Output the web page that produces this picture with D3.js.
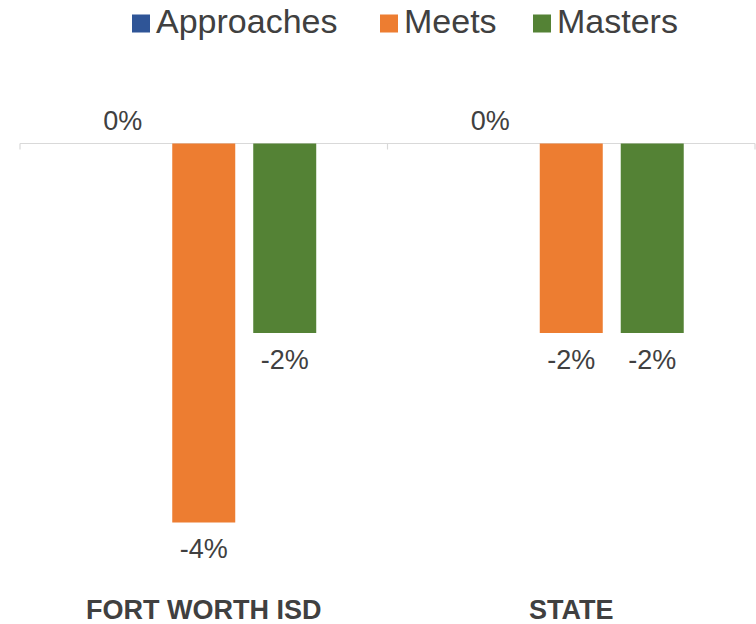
<!DOCTYPE html>
<html>
<head>
<meta charset="utf-8">
<script src="https://cdn.jsdelivr.net/npm/d3@7"></script>
<style>
  body { margin: 0; background: #fff; }
  text { font-family: "Liberation Sans", Arial, sans-serif; fill: #404040; }
</style>
</head>
<body>
<div id="chart"></div>
<script>
// data
const categories = ["FORT WORTH ISD", "STATE"];
const series = ["Approaches", "Meets", "Masters"];
const colors = ["#2F5597", "#ED7D31", "#548235"];
const approaches = [0, 0];
const meets = [-4, -2];
const masters = [-2, -2];
const valueLabels = [["0%", "-4%", "-2%"], ["0%", "-2%", "-2%"]];

const width = 756, height = 624;
const values = [approaches, meets, masters];

const svg = d3.select("#chart").append("svg")
    .attr("width", width)
    .attr("height", height);

const x0 = d3.scaleBand().domain(categories).range([20, 755]);
const x1 = d3.scaleBand().domain(series)
    .range([0, x0.bandwidth()])
    .paddingInner(18 / 81)
    .paddingOuter(0.88);
const y = d3.scaleLinear().domain([-4, 0]).range([522.5, 143.5]);

// axis line with ticks
const axis = svg.append("g").attr("transform", "translate(0," + y(0) + ")");
axis.append("line")
    .attr("x1", x0.range()[0]).attr("x2", x0.range()[1])
    .attr("stroke", "#D9D9D9").attr("stroke-width", 1.2);
axis.selectAll(".tick")
    .data(categories.map(c => x0(c)).concat([x0.range()[1]]))
    .join("line")
    .attr("x1", d => d).attr("x2", d => d)
    .attr("y1", 0).attr("y2", 6)
    .attr("stroke", "#D9D9D9").attr("stroke-width", 1.2);

// bars
const groups = svg.append("g").selectAll("g")
    .data(categories)
    .join("g")
    .attr("transform", d => "translate(" + x0(d) + ",0)");

groups.each(function (cat, ci) {
    const g = d3.select(this);
    series.forEach((s, si) => {
        const v = values[si][ci];
        if (v !== 0) {
            g.append("rect")
                .attr("x", x1(s))
                .attr("width", x1.bandwidth())
                .attr("y", y(Math.max(0, v)))
                .attr("height", Math.abs(y(v) - y(0)))
                .attr("fill", colors[si]);
        }
        g.append("text")
            .attr("x", x1(s) + x1.bandwidth() / 2)
            .attr("y", v < 0 ? y(v) + 35.5 : y(0) - 13.5)
            .attr("text-anchor", "middle")
            .style("font-size", "27px")
            .text(valueLabels[ci][si]);
    });
});

// category labels
svg.append("g").selectAll("text")
    .data(categories)
    .join("text")
    .attr("x", d => x0(d) + x0.bandwidth() / 2)
    .attr("y", 619)
    .attr("text-anchor", "middle")
    .style("font-size", "27px")
    .style("font-weight", "bold")
    .text(d => d);

// legend
const legendX = [132, 380, 533];
const legend = svg.append("g").selectAll("g")
    .data(series)
    .join("g")
    .attr("transform", (d, i) => "translate(" + legendX[i] + ",0)");
legend.append("rect")
    .attr("y", 14.5).attr("width", 18).attr("height", 18)
    .attr("fill", (d, i) => colors[i]);
legend.append("text")
    .attr("x", 24).attr("y", 33)
    .style("font-size", "34px")
    .text(d => d);
</script>
</body>
</html>
